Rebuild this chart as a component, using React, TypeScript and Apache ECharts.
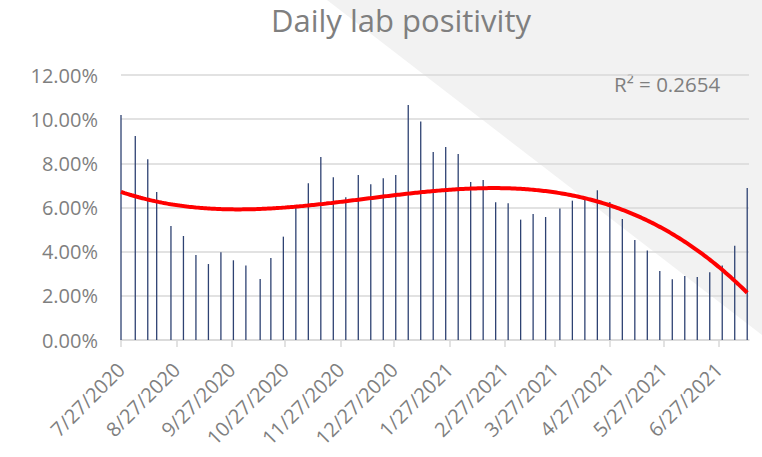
import React, { useEffect, useRef } from "react";
import * as echarts from "echarts";

const dates = [
  "2020-07-27", "2020-08-04", "2020-08-11", "2020-08-16", "2020-08-24", "2020-08-31",
  "2020-09-07", "2020-09-14", "2020-09-21", "2020-09-28",
  "2020-10-05", "2020-10-13", "2020-10-19", "2020-10-26",
  "2020-11-02", "2020-11-09", "2020-11-16", "2020-11-23", "2020-11-30",
  "2020-12-07", "2020-12-14", "2020-12-21", "2020-12-28",
  "2021-01-04", "2021-01-11", "2021-01-18", "2021-01-25",
  "2021-02-01", "2021-02-08", "2021-02-15", "2021-02-22",
  "2021-03-01", "2021-03-08", "2021-03-15", "2021-03-22", "2021-03-30",
  "2021-04-06", "2021-04-13", "2021-04-20", "2021-04-27",
  "2021-05-04", "2021-05-11", "2021-05-18", "2021-05-25",
  "2021-06-01", "2021-06-08", "2021-06-15", "2021-06-22", "2021-06-29",
  "2021-07-06", "2021-07-13",
];

const positivity = [
  10.19, 9.24, 8.18, 6.7, 5.16, 4.71,
  3.85, 3.44, 3.97, 3.61,
  3.37, 2.76, 3.71, 4.68,
  6.05, 7.1, 8.29, 7.37, 6.46,
  7.47, 7.05, 7.32, 7.47,
  10.64, 9.9, 8.51, 8.74,
  8.42, 7.16, 7.25, 6.24,
  6.19, 5.45, 5.71, 5.57, 5.95,
  6.31, 6.37, 6.78, 6.25,
  5.48, 4.53, 4.05, 3.13,
  2.75, 2.9, 2.85, 3.07, 3.37,
  4.27, 6.88,
];

const tickDates = [
  "2020-07-27", "2020-08-27", "2020-09-27", "2020-10-27", "2020-11-27", "2020-12-27",
  "2021-01-27", "2021-02-27", "2021-03-27", "2021-04-27", "2021-05-27", "2021-06-27",
];

const titleText = "Daily lab positivity";
const r2Text = "R² = 0.2654";
const axisEnd = "2021-07-14";

const DAY = 86400000;
const origin = Date.UTC(2020, 6, 27);
function dayOf(s: string): number {
  const [y, m, d] = s.split("-").map(Number);
  return Math.round((Date.UTC(y, m - 1, d) - origin) / DAY);
}
function fmtDay(v: number): string {
  const dt = new Date(origin + Math.round(v) * DAY);
  return `${dt.getUTCMonth() + 1}/${dt.getUTCDate()}/${dt.getUTCFullYear()}`;
}

// Least-squares polynomial (order 3) trendline, like Excel's
function polyFit(xs: number[], ys: number[], order: number): number[] {
  const n = order + 1;
  const A: number[][] = Array.from({ length: n }, () => new Array(n + 1).fill(0));
  for (let k = 0; k < xs.length; k++) {
    const x = xs[k] / 100;
    for (let i = 0; i < n; i++) {
      for (let j = 0; j < n; j++) A[i][j] += Math.pow(x, i + j);
      A[i][n] += ys[k] * Math.pow(x, i);
    }
  }
  for (let c = 0; c < n; c++) {
    let p = c;
    for (let r = c + 1; r < n; r++) if (Math.abs(A[r][c]) > Math.abs(A[p][c])) p = r;
    const tmp = A[c];
    A[c] = A[p];
    A[p] = tmp;
    for (let r = 0; r < n; r++) {
      if (r === c) continue;
      const f = A[r][c] / A[c][c];
      for (let j = c; j <= n; j++) A[r][j] -= f * A[c][j];
    }
  }
  return A.map((row, i) => row[n] / row[i]);
}

export default function App() {
  const ref = useRef<HTMLDivElement>(null);
  useEffect(() => {
    document.body.style.margin = "0";
    if (!ref.current) return;
    const chart = echarts.init(ref.current, undefined, { renderer: "svg" });
    const xs = dates.map(dayOf);
    const coef = polyFit(xs, positivity, 3);
    const first = xs[0];
    const last = xs[xs.length - 1];
    const trend: number[][] = [];
    for (let d = first; d <= last; d += 1) {
      const x = d / 100;
      const v = coef[0] + coef[1] * x + coef[2] * x * x + coef[3] * x * x * x;
      trend.push([d, v]);
    }
    const ticks = tickDates.map(dayOf);
    const labelFont = { color: "#7f7f7f", fontSize: 20, fontFamily: "Open Sans" };

    chart.setOption({
      animation: false,
      backgroundColor: "#ffffff",
      graphic: [
        {
          type: "polygon",
          z: -100,
          silent: true,
          shape: { points: [[327, 0], [762, 0], [762, 335]] },
          style: { fill: "#f2f2f2" },
        },
        {
          type: "text",
          x: 401,
          y: 20,
          style: {
            text: titleText,
            align: "center",
            verticalAlign: "middle",
            fill: "#7f7f7f",
            fontSize: 31,
            fontFamily: "Open Sans",
          },
        },
        {
          type: "text",
          x: 614,
          y: 84,
          style: {
            text: r2Text,
            align: "left",
            verticalAlign: "middle",
            fill: "#7f7f7f",
            fontSize: 20.5,
            fontFamily: "Open Sans",
          },
        },
      ],
      grid: { left: 121, right: 13, top: 75, bottom: 117, containLabel: false },
      xAxis: {
        type: "value",
        min: 0,
        max: dayOf(axisEnd),
        axisLine: { show: true, lineStyle: { color: "#d9d9d9", width: 1.5 } },
        axisTick: {
          show: true,
          customValues: ticks,
          length: 7,
          lineStyle: { color: "#d9d9d9", width: 1.5 },
        },
        axisLabel: {
          customValues: ticks,
          rotate: 45,
          margin: 26,
          formatter: (v: number) => fmtDay(v),
          ...labelFont,
        },
        splitLine: { show: false },
      },
      yAxis: {
        type: "value",
        min: 0,
        max: 12,
        interval: 2,
        axisLine: { show: false },
        axisTick: { show: false },
        axisLabel: {
          margin: 23,
          formatter: (v: number) => v.toFixed(2) + "%",
          ...labelFont,
        },
        splitLine: { lineStyle: { color: "#d9d9d9", width: 1.5 } },
      },
      series: [
        {
          type: "bar",
          name: "Positivity",
          data: xs.map((x, i) => [x, positivity[i]]),
          barWidth: 1.3,
          itemStyle: { color: "#2e4272" },
        },
        {
          type: "line",
          name: "Poly. (Positivity)",
          data: trend,
          showSymbol: false,
          z: 5,
          lineStyle: { color: "#ff0000", width: 4 },
        },
      ],
    });
    return () => chart.dispose();
  }, []);
  return <div ref={ref} style={{ width: 762, height: 457 }} />;
}
